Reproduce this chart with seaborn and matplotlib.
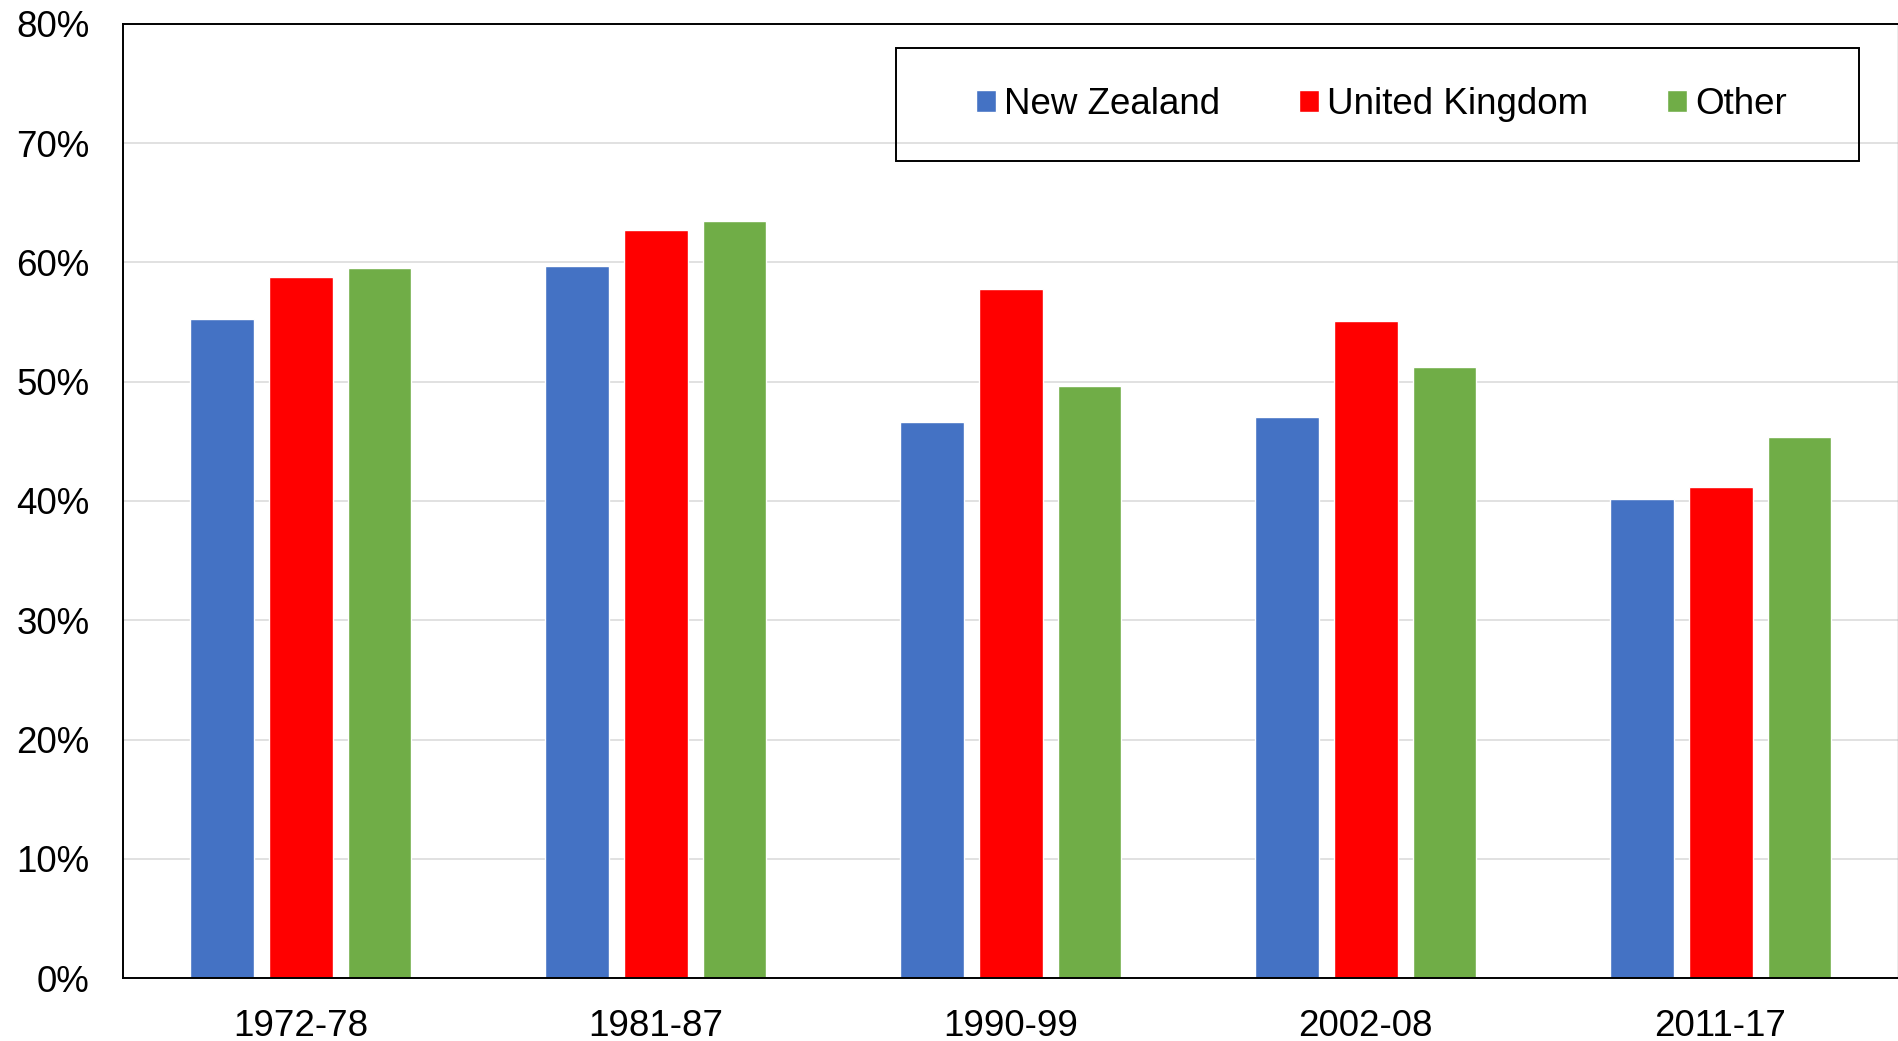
import pandas as pd
import matplotlib.pyplot as plt
import matplotlib.patches as mpatches
from matplotlib.ticker import PercentFormatter
import seaborn as sns

# Values (share, %)
periods = ['1972-78', '1981-87', '1990-99', '2002-08', '2011-17']
new_zealand = [55.3, 59.7, 46.6, 47.0, 40.2]
united_kingdom = [58.8, 62.7, 57.8, 55.1, 41.2]
other = [59.5, 63.45, 49.6, 51.2, 45.4]
groups = ['New Zealand', 'United Kingdom', 'Other']
colors = {'New Zealand': '#4472C4', 'United Kingdom': '#FF0000', 'Other': '#70AD47'}

rows = []
for name, vals in zip(groups, [new_zealand, united_kingdom, other]):
    for p, v in zip(periods, vals):
        rows.append({'period': p, 'group': name, 'share': v / 100})
df = pd.DataFrame(rows)

sns.set_style("white")
plt.rcParams['font.family'] = ['Liberation Sans', 'DejaVu Sans']
plt.rcParams['text.color'] = 'black'
plt.rcParams['xtick.color'] = 'black'
plt.rcParams['ytick.color'] = 'black'

fig = plt.figure(figsize=(18.99, 10.41), dpi=100)
ax = fig.add_axes([0.0648, 0.0605, 0.9347, 0.9165])

sns.barplot(data=df, x='period', y='share', hue='group', hue_order=groups,
            palette=colors, saturation=1, width=0.667, gap=0.19, ax=ax)

ax.set_ylim(0, 0.8)
ax.set_yticks([i / 10 for i in range(9)])
ax.yaxis.set_major_formatter(PercentFormatter(1.0, decimals=0))
ax.yaxis.grid(True, color='#d9d9d9', linewidth=1.1)
ax.set_axisbelow(True)
ax.set_xlabel('')
ax.set_ylabel('')
ax.tick_params(axis='y', length=0, labelsize=26.5, pad=24)
ax.tick_params(axis='x', length=0, labelsize=26.5, pad=22)

for side in ['left', 'bottom', 'top']:
    ax.spines[side].set_color('black')
    ax.spines[side].set_linewidth(1.4)
ax.spines['right'].set_color('#a0a0a0')
ax.spines['right'].set_linewidth(1.0)

# Legend: frameless entries plus a square black box around them
handles, labels = ax.get_legend_handles_labels()
ax.get_legend().remove()
ax.legend(handles, labels, ncol=3, frameon=False, fontsize=26.5,
          loc='center', bbox_to_anchor=(0.709, 0.9156),
          handlelength=0.54, handleheight=0.57, handletextpad=0.22,
          columnspacing=2.15)
ax.add_patch(mpatches.Rectangle((0.4355, 0.8564), 0.5425, 0.1184,
                                transform=ax.transAxes, fill=False,
                                edgecolor='black', linewidth=1.4,
                                zorder=5, clip_on=False))

plt.savefig('out.png', dpi=100)
plt.close()
